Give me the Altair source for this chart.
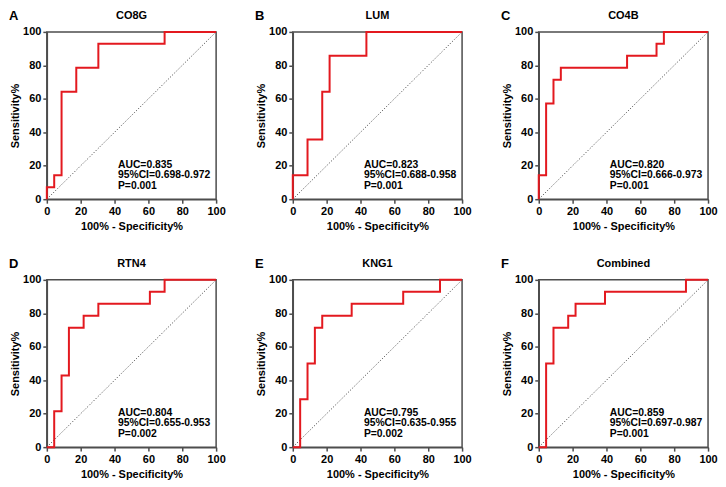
import altair as alt
import pandas as pd

RED = "#e3191f"
GREY = "#4d4d4d"
FONT = "Liberation Sans"

letters = ["A", "B", "C", "D", "E", "F"]
names = ["CO8G", "LUM", "CO4B", "RTN4", "KNG1", "Combined"]

# ROC threshold points: 100% - specificity% and sensitivity%
fpr_a = [0, 0, 4.35, 8.70, 17.39, 30.43, 69.57, 100]
sens_a = [0, 7.14, 14.29, 64.29, 78.57, 92.86, 100, 100]
fpr_b = [0, 0, 8.70, 17.39, 21.74, 43.48, 100]
sens_b = [0, 14.29, 35.71, 64.29, 85.71, 100, 100]
fpr_c = [0, 0, 4.35, 8.70, 13.04, 52.17, 69.57, 73.91, 100]
sens_c = [0, 14.29, 57.14, 71.43, 78.57, 85.71, 92.86, 100, 100]
fpr_d = [0, 4.35, 8.70, 13.04, 21.74, 30.43, 60.87, 69.57, 100]
sens_d = [0, 21.43, 42.86, 71.43, 78.57, 85.71, 92.86, 100, 100]
fpr_e = [0, 4.35, 8.70, 13.04, 17.39, 34.78, 65.22, 86.96, 100]
sens_e = [0, 28.57, 50.00, 71.43, 78.57, 85.71, 92.86, 100, 100]
fpr_f = [0, 4.35, 8.70, 17.39, 21.74, 39.13, 86.96, 100]
sens_f = [0, 50.00, 71.43, 78.57, 85.71, 92.86, 100, 100]

aucs = ["0.835", "0.823", "0.820", "0.804", "0.795", "0.859"]
cis = ["0.698-0.972", "0.688-0.958", "0.666-0.973", "0.655-0.953", "0.635-0.955", "0.697-0.987"]
pvals = ["0.001", "0.001", "0.001", "0.002", "0.002", "0.001"]

ticks = [0, 20, 40, 60, 80, 100]

W = 170
H = 168


def panel(letter, name, fpr, sens, auc, ci, p):
    df = pd.DataFrame({"fpr": fpr, "sens": sens, "idx": list(range(len(fpr)))})
    xenc = alt.X("fpr:Q", scale=alt.Scale(domain=[0, 100], nice=False),
                 axis=alt.Axis(values=ticks, tickCount=10, title="100% - Specificity%"))
    yenc = alt.Y("sens:Q", scale=alt.Scale(domain=[0, 100], nice=False),
                 axis=alt.Axis(values=ticks, tickCount=10, title="Sensitivity%"))
    diag = alt.Chart(pd.DataFrame({"fpr": [0, 100], "sens": [0, 100]})).mark_line(
        color="#555555", strokeWidth=1, strokeDash=[1.2, 1.8]
    ).encode(x=xenc, y=yenc)
    roc = alt.Chart(df).mark_line(
        color=RED, strokeWidth=2, interpolate="step-after"
    ).encode(x=xenc, y=yenc, order="idx:Q")
    txt = alt.Chart(pd.DataFrame({"t": [f"AUC={auc}\n95%CI={ci}\nP={p}"]})).mark_text(
        align="left", baseline="top", font=FONT, fontWeight="bold", fontSize=10.4,
        lineBreak="\n", lineHeight=10.5, color="black"
    ).encode(x=alt.datum(42), y=alt.datum(23.5), text="t:N")
    lab = alt.Chart(pd.DataFrame({"t": [letter]})).mark_text(
        align="left", baseline="middle", font=FONT, fontWeight="bold", fontSize=13, color="black"
    ).encode(x=alt.value(-38), y=alt.value(-16), text="t:N")
    ttl = alt.Chart(pd.DataFrame({"t": [name]})).mark_text(
        align="center", baseline="middle", font=FONT, fontWeight="bold", fontSize=11, color="black"
    ).encode(x=alt.value(W / 2), y=alt.value(-16), text="t:N")
    return alt.layer(diag, roc, txt, lab, ttl).properties(width=W, height=H)


panels = [
    panel(letters[0], names[0], fpr_a, sens_a, aucs[0], cis[0], pvals[0]),
    panel(letters[1], names[1], fpr_b, sens_b, aucs[1], cis[1], pvals[1]),
    panel(letters[2], names[2], fpr_c, sens_c, aucs[2], cis[2], pvals[2]),
    panel(letters[3], names[3], fpr_d, sens_d, aucs[3], cis[3], pvals[3]),
    panel(letters[4], names[4], fpr_e, sens_e, aucs[4], cis[4], pvals[4]),
    panel(letters[5], names[5], fpr_f, sens_f, aucs[5], cis[5], pvals[5]),
]

chart = alt.vconcat(
    alt.hconcat(*panels[:3], spacing=28),
    alt.hconcat(*panels[3:], spacing=28),
    spacing=25,
).properties(padding=0).configure_view(
    stroke=GREY, strokeWidth=1.5
).configure_axis(
    grid=False,
    domainColor=GREY, domainWidth=1.5,
    tickColor=GREY, tickWidth=1.5, tickSize=4,
    labelFont=FONT, labelFontWeight="bold", labelFontSize=11, labelColor="black", labelPadding=2,
    labelOverlap=False, labelFlush=False, labelBound=False,
    titleFont=FONT, titleFontWeight="bold", titleFontSize=11, titleColor="black",
)
chart = chart.configure_axisX(titlePadding=4).configure_axisY(titlePadding=2)

chart.save("out.html", embed_options={"renderer": "svg", "actions": False})
